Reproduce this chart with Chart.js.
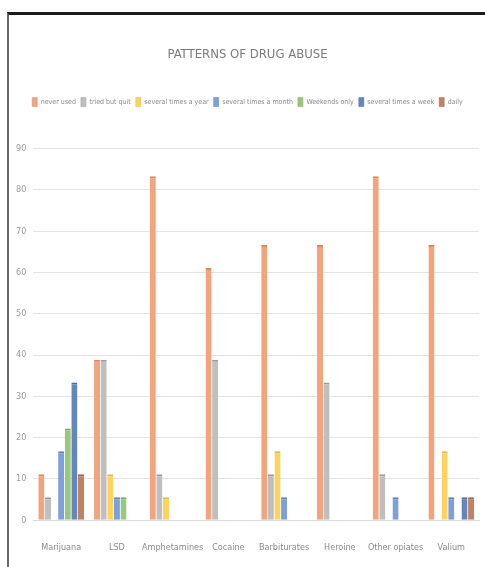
<!DOCTYPE html>
<html lang="en">
<head>
    <meta charset="UTF-8">
    <title>Patterns of Drug Abuse</title>
    <script src="https://cdn.jsdelivr.net/npm/chart.js"></script>
    <style>
        html, body {
            margin: 0;
            width: 485px;
            height: 567px;
            background: #ffffff;
            overflow: hidden;
        }
        #frame {
            position: absolute;
            left: 7px;
            top: 12px;
            width: 478px;
            height: 555px;
            border-top: 3px solid #1c1c1c;
            border-left: 2px solid #6a6a6a;
            background: #ffffff;
        }
        #chart-box {
            position: absolute;
            left: 0;
            top: 0;
            width: 478px;
            height: 562px;
        }
    </style>
</head>
<body>

<div id="frame">
    <div id="chart-box">
        <canvas id="drugChart"></canvas>
    </div>
</div>

<script>
const drugs = ['Marijuana', 'LSD', 'Amphetamines', 'Cocaine', 'Barbiturates', 'Heroine', 'Other opiates', 'Valium'];

// percent of respondents (n = 18)
const neverUsed      = [11.11, 38.89, 83.33, 61.11, 66.67, 66.67, 83.33, 66.67];
const triedButQuit   = [5.56, 38.89, 11.11, 38.89, 11.11, 33.33, 11.11, 0];
const timesAYear     = [0, 11.11, 5.56, 0, 16.67, 0, 0, 16.67];
const timesAMonth    = [16.67, 5.56, 0, 0, 5.56, 0, 5.56, 5.56];
const weekendsOnly   = [22.22, 5.56, 0, 0, 0, 0, 0, 0];
const timesAWeek     = [33.33, 0, 0, 0, 0, 0, 0, 5.56];
const daily          = [11.11, 0, 0, 0, 0, 0, 0, 5.56];

const yTicks = [0, 10, 20, 30, 40, 50, 60, 70, 80, 90];

const font = "'Liberation Sans Narrow', 'DejaVu Sans Condensed', 'Liberation Sans', sans-serif";

function series(label, data, fill, edge) {
    return {
        label: label,
        data: data,
        backgroundColor: fill,
        borderColor: edge,
        borderWidth: { top: 2, left: 0, right: 0, bottom: 0 },
        borderSkipped: 'bottom'
    };
}

// extra room under the legend, like the Excel original
const legendGap = {
    id: 'legendGap',
    beforeInit(chart) {
        const fit = chart.legend.fit;
        chart.legend.fit = function () {
            fit.bind(chart.legend)();
            this.height += 32;
        };
    }
};

var ctx = document.getElementById('drugChart').getContext('2d');
new Chart(ctx, {
    type: 'bar',
    data: {
        labels: drugs,
        datasets: [
            series('never used', neverUsed, '#f2a47c', '#d98a62'),
            series('tried but quit', triedButQuit, '#bfbfbf', '#9c9c9c'),
            series('several times a year', timesAYear, '#fdd35c', '#e6b942'),
            series('several times a month', timesAMonth, '#7d9fdb', '#5f82bf'),
            series('Weekends only', weekendsOnly, '#98c77e', '#7aa962'),
            series('several times a week', timesAWeek, '#6386bd', '#4a6ca2'),
            series('daily', daily, '#c08264', '#a2664a')
        ]
    },
    plugins: [legendGap],
    options: {
        responsive: true,
        maintainAspectRatio: false,
        animation: false,
        layout: {
            padding: { top: 0, left: 0, right: 1, bottom: 2 }
        },
        datasets: {
            bar: {
                categoryPercentage: 0.83,
                barPercentage: 0.92
            }
        },
        plugins: {
            title: {
                display: true,
                text: 'PATTERNS OF DRUG ABUSE',
                color: '#7a7a7a',
                font: { family: font, size: 13, weight: 'normal' },
                padding: { top: 32, bottom: 30 }
            },
            legend: {
                display: true,
                position: 'top',
                labels: {
                    color: '#8a8a8a',
                    font: { family: font, size: 7 },
                    boxWidth: 5,
                    boxHeight: 9,
                    padding: 5
                }
            },
            tooltip: { enabled: false }
        },
        scales: {
            x: {
                grid: { display: false, drawTicks: false },
                border: { display: true, color: '#d9d9d9' },
                ticks: {
                    color: '#8a8a8a',
                    font: { family: font, size: 9 },
                    padding: 22,
                    maxRotation: 0,
                    autoSkip: false
                }
            },
            y: {
                min: 0,
                max: 90,
                afterBuildTicks: function (axis) {
                    axis.ticks = yTicks.map(v => ({ value: v }));
                },
                grid: { color: '#e4e4e4', drawTicks: false },
                border: { display: false },
                ticks: {
                    color: '#9a9a9a',
                    font: { family: font, size: 9 },
                    padding: 7
                }
            }
        }
    }
});
</script>

</body>
</html>
